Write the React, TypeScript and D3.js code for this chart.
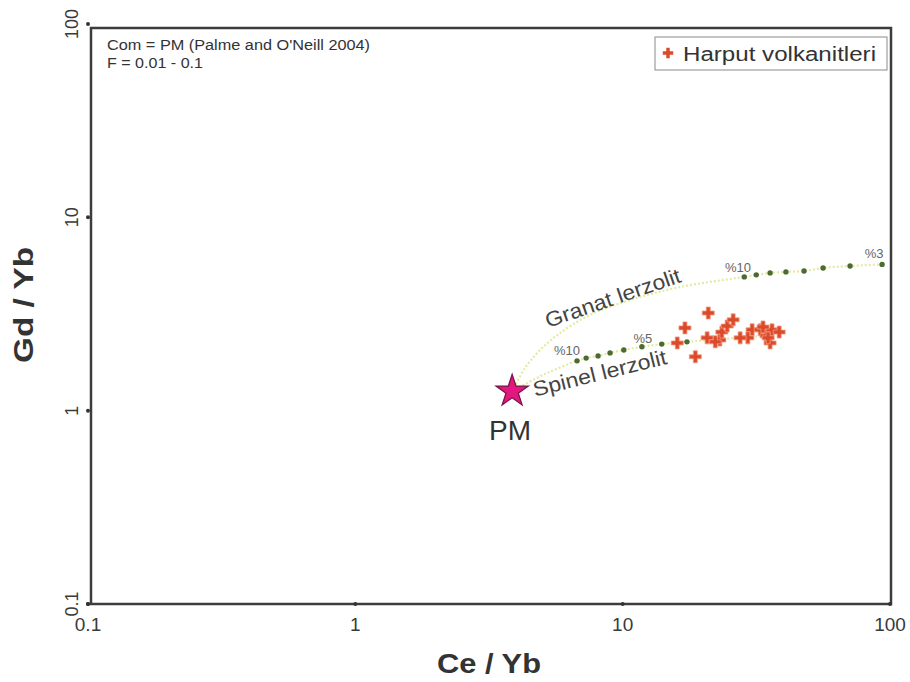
import React from "react";
import * as d3 from "d3";

const W = 910, H = 682;

// PM composition (Palme & O'Neill 2004)
const pm = { x: 3.86, y: 1.26 };

// Granat lerzolit melting curve (Ce/Yb, Gd/Yb)
const granatCurveX = [3.86, 4.31, 4.91, 5.83, 7.55, 10.7, 16.4, 28.5, 31.6, 35.6, 40.8, 47.7, 56.2, 70.9, 93.4];
const granatCurveY = [1.26, 1.66, 2.06, 2.52, 3.13, 3.74, 4.36, 4.92, 5.04, 5.16, 5.22, 5.28, 5.47, 5.60, 5.71];
const granatDotX = [28.5, 31.6, 35.6, 40.8, 47.7, 56.2, 70.9, 93.4];
const granatDotY = [4.92, 5.04, 5.16, 5.22, 5.28, 5.47, 5.60, 5.71];

// Spinel lerzolit melting curve
const spinelCurveX = [3.86, 5.13, 6.75, 7.30, 8.09, 8.97, 10.1, 11.8, 14.0, 17.4, 32.7];
const spinelCurveY = [1.26, 1.55, 1.81, 1.87, 1.92, 1.99, 2.06, 2.14, 2.21, 2.27, 2.43];
const spinelDotX = [6.75, 7.30, 8.09, 8.97, 10.1, 11.8, 14.0, 17.4];
const spinelDotY = [1.81, 1.87, 1.92, 1.99, 2.06, 2.14, 2.21, 2.27];

// Harput volkanitleri samples
const sampleCe = [20.9, 17.1, 16.0, 18.7, 20.7, 23.1, 23.5, 24.6, 25.9, 30.5, 29.4, 32.7, 34.4, 36.2, 38.5, 35.6, 35.0, 33.5, 22.2, 27.5];
const sampleGd = [3.20, 2.68, 2.24, 1.90, 2.38, 2.32, 2.55, 2.74, 2.95, 2.62, 2.38, 2.62, 2.44, 2.62, 2.55, 2.24, 2.38, 2.71, 2.27, 2.38];

const tickValues = [0.1, 1, 10, 100];
const tickLabels = ["0.1", "1", "10", "100"];

// Melt percentage labels
const meltLabels = ["%10", "%5", "%10", "%3"];
const meltLabelX = [6.19, 11.9, 27.0, 87.2];
const meltLabelY = [1.94, 2.24, 5.22, 6.17];

export default function App() {
  const x = d3.scaleLog().domain([0.1, 100]).range([88, 890]);
  const y = d3.scaleLog().domain([0.1, 100]).range([604, 24]);

  const makePath = (xs: number[], ys: number[]) =>
    d3.line<[number, number]>()
      .x((d) => x(d[0]))
      .y((d) => y(d[1]))
      .curve(d3.curveCatmullRom.alpha(0.5))(xs.map((v, i) => [v, ys[i]] as [number, number])) || "";

  const cross = d3.symbol().type(d3.symbolCross).size(80)() || "";
  const crossSmall = d3.symbol().type(d3.symbolCross).size(60)() || "";
  const star = d3.symbol().type(d3.symbolStar).size(320)() || "";

  const font = "'Liberation Sans', Arial, sans-serif";

  const granatStart = { x: 5.26, y: 2.68 };
  const spinelStart = { x: 4.70, y: 1.18 };
  const pmLabel = { x: 3.79, y: 0.705 };

  return (
    <div style={{ position: "absolute", left: 0, top: 0 }}>
      <svg width={W} height={H} style={{ display: "block", background: "#fff" }} fontFamily={font}>
        {/* melting curves */}
        <path d={makePath(granatCurveX, granatCurveY)} fill="none" stroke="#e3eba0" strokeWidth={2.2} strokeDasharray="2 2" />
        <path d={makePath(spinelCurveX, spinelCurveY)} fill="none" stroke="#e3eba0" strokeWidth={2.2} strokeDasharray="2 2" />

        {granatDotX.map((v, i) => (
          <circle key={"g" + i} cx={x(v)} cy={y(granatDotY[i])} r={2.7} fill="#4d6b2e" />
        ))}
        {spinelDotX.map((v, i) => (
          <circle key={"s" + i} cx={x(v)} cy={y(spinelDotY[i])} r={2.7} fill="#4d6b2e" />
        ))}

        {meltLabels.map((t, i) => (
          <text key={"m" + i} x={x(meltLabelX[i])} y={y(meltLabelY[i])} textAnchor="middle" fontSize={13} fill="#666">{t}</text>
        ))}

        <text
          x={x(granatStart.x)} y={y(granatStart.y)}
          transform={`rotate(-19 ${x(granatStart.x)} ${y(granatStart.y)})`}
          fontSize={21} fill="#444" textLength={142} lengthAdjust="spacingAndGlyphs"
        >Granat lerzolit</text>
        <text
          x={x(spinelStart.x)} y={y(spinelStart.y)}
          transform={`rotate(-14 ${x(spinelStart.x)} ${y(spinelStart.y)})`}
          fontSize={21} fill="#444" textLength={137} lengthAdjust="spacingAndGlyphs"
        >Spinel lerzolit</text>

        {/* samples */}
        {sampleCe.map((v, i) => (
          <path key={"c" + i} d={cross} transform={`translate(${x(v)},${y(sampleGd[i])})`} fill="#dc4a2c" stroke="#f29a7c" strokeWidth={0.8} />
        ))}

        {/* PM */}
        <path d={star} transform={`translate(${x(pm.x)},${y(pm.y)})`} fill="#e2187f" stroke="#7a1548" strokeWidth={1.3} />
        <text x={x(pmLabel.x)} y={y(pmLabel.y)} textAnchor="middle" fontSize={28} fill="#333">PM</text>

        {/* frame */}
        <rect x={x(0.1) + 3} y={y(100) + 4} width={x(100) - x(0.1) - 2} height={y(0.1) - y(100) - 4} fill="none" stroke="#3c3c3c" strokeWidth={2.5} />
        {tickValues.map((v, i) => (
          <g key={"t" + i}>
            <circle cx={x(v)} cy={y(0.1)} r={2} fill="#333" />
            <circle cx={x(0.1)} cy={y(v)} r={2} fill="#333" />
            <text x={x(v)} y={631} textAnchor="middle" fontSize={19} fill="#3a3a3a">{tickLabels[i]}</text>
            <text x={78} y={y(v)} transform={`rotate(-90 78 ${y(v)})`} textAnchor="middle" fontSize={18} fill="#3a3a3a">{tickLabels[i]}</text>
          </g>
        ))}

        {/* axis titles */}
        <text x={489} y={673} textAnchor="middle" fontSize={28} fontWeight="bold" fill="#333" textLength={104} lengthAdjust="spacingAndGlyphs">Ce / Yb</text>
        <text x={33} y={305} transform="rotate(-90 33 305)" textAnchor="middle" fontSize={28} fontWeight="bold" fill="#333" textLength={116} lengthAdjust="spacingAndGlyphs">Gd / Yb</text>

        {/* notes */}
        <text x={107} y={50} fontSize={14} fill="#333" textLength={263} lengthAdjust="spacingAndGlyphs">Com = PM (Palme and O'Neill 2004)</text>
        <text x={107} y={68} fontSize={14} fill="#333" textLength={96} lengthAdjust="spacingAndGlyphs">F = 0.01 - 0.1</text>

        {/* legend */}
        <rect x={655} y={37} width={232} height={33} fill="#fff" stroke="#8a8a8a" strokeWidth={1} />
        <path d={crossSmall} transform="translate(668,53)" fill="#dc4a2c" />
        <text x={683} y={61} fontSize={20} fill="#333" textLength={193} lengthAdjust="spacingAndGlyphs">Harput volkanitleri</text>
      </svg>
    </div>
  );
}
